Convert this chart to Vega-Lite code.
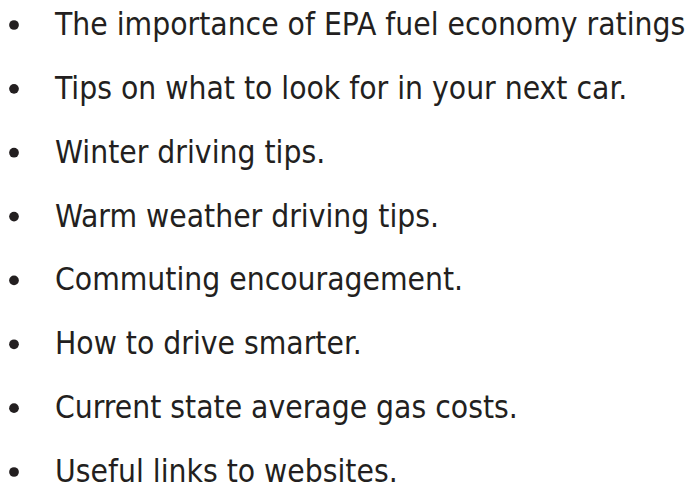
{
  "$schema": "https://vega.github.io/schema/vega-lite/v6.json",
  "width": 692,
  "height": 488,
  "autosize": "none",
  "padding": 0,
  "background": "#ffffff",
  "config": {"view": {"stroke": null}},
  "data": {
    "values": [
      {"row": 1, "label": "The importance of EPA fuel economy ratings"},
      {"row": 2, "label": "Tips on what to look for in your next car."},
      {"row": 3, "label": "Winter driving tips."},
      {"row": 4, "label": "Warm weather driving tips."},
      {"row": 5, "label": "Commuting encouragement."},
      {"row": 6, "label": "How to drive smarter."},
      {"row": 7, "label": "Current state average gas costs."},
      {"row": 8, "label": "Useful links to websites."}
    ]
  },
  "layer": [
    {
      "mark": {"type": "point", "shape": "circle", "filled": true, "opacity": 1, "size": 95, "color": "#231f20", "yOffset": -10},
      "encoding": {
        "x": {"datum": 0, "type": "quantitative", "scale": {"domain": [0, 1], "range": [14, 55]}, "axis": null},
        "y": {"field": "row", "type": "quantitative", "scale": {"domain": [1, 8], "range": [35, 482]}, "axis": null}
      }
    },
    {
      "mark": {"type": "text", "align": "left", "baseline": "alphabetic", "font": "DejaVu Sans Condensed", "fontSize": 31.5, "color": "#231f20"},
      "encoding": {
        "x": {"datum": 1, "type": "quantitative"},
        "y": {"field": "row", "type": "quantitative"},
        "text": {"field": "label"}
      }
    }
  ]
}
